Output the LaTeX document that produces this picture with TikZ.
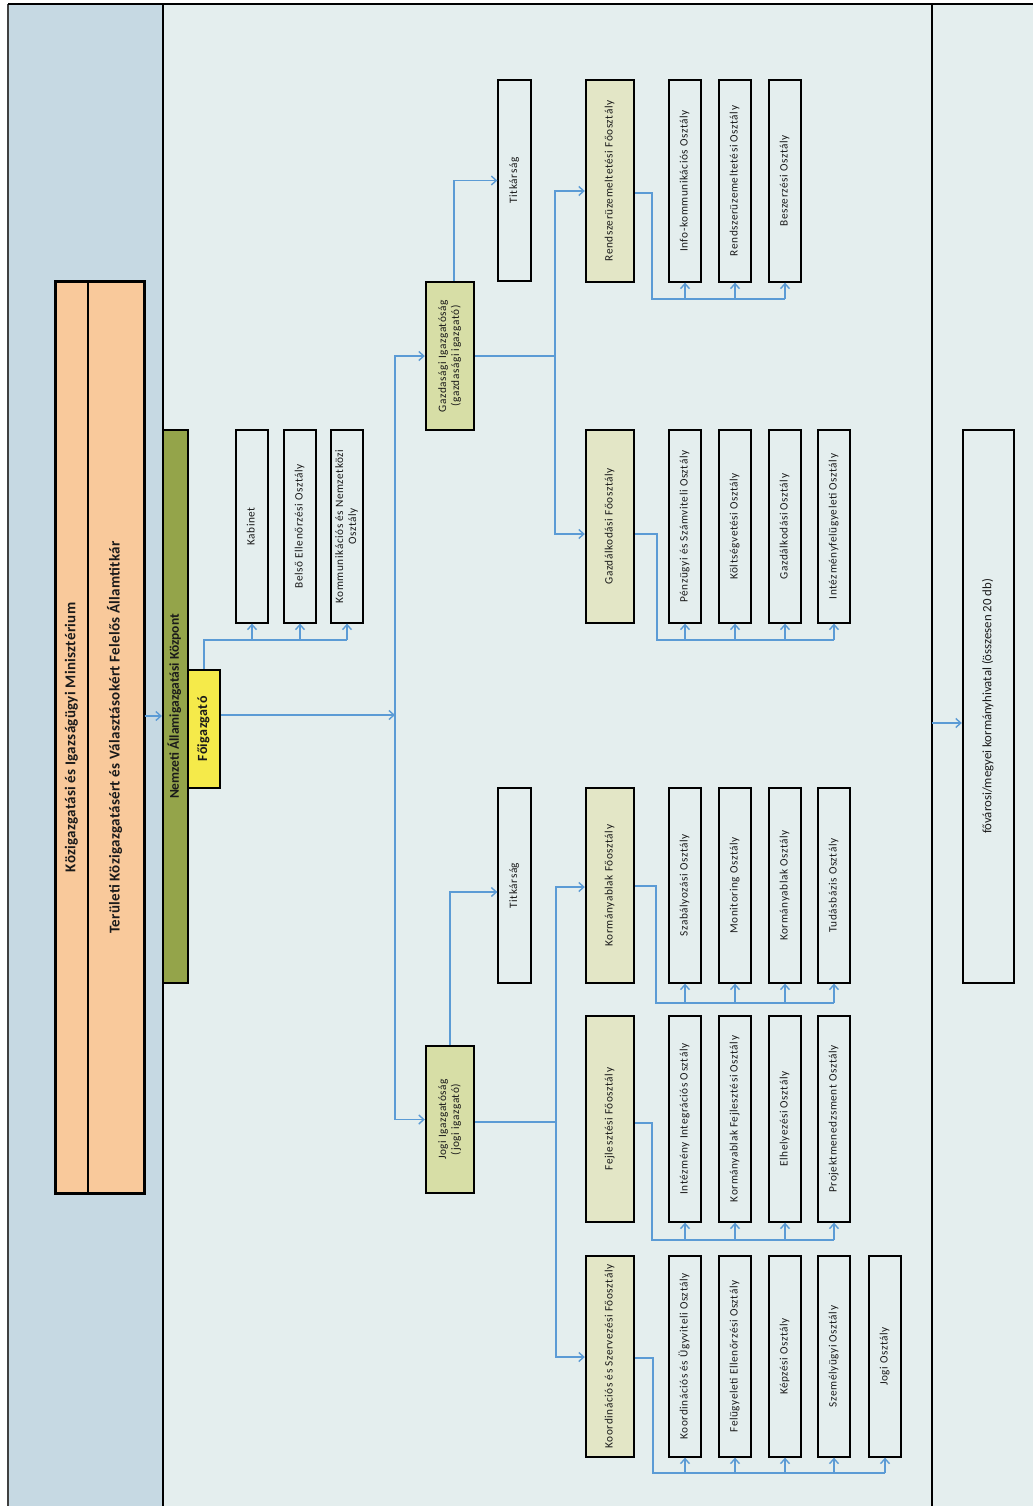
\documentclass[tikz,border=0pt]{standalone}
\usepackage{fontspec}
\setmainfont{Carlito}
\newfontfamily\spfont[LetterSpace=5]{Carlito}
\newfontfamily\titfont[LetterSpace=2]{Carlito}
\newfontfamily\fofont[LetterSpace=3]{Carlito}
\usetikzlibrary{arrows.meta}
\definecolor{leftbg}{HTML}{C6D9E3}
\definecolor{midbg}{HTML}{E4EEEE}
\definecolor{orng}{HTML}{F9C99B}
\definecolor{nakgreen}{HTML}{94A44A}
\definecolor{fyellow}{HTML}{F5EA4A}
\definecolor{igfill}{HTML}{D7DEA6}
\definecolor{fofill}{HTML}{E3E6C6}
\definecolor{conncol}{HTML}{5B9BD5}
\definecolor{txt}{HTML}{1A1A1A}
\newcommand{\vtext}[1]{\rotatebox{90}{\begin{tabular}{@{}c@{}}#1\end{tabular}}}
\tikzset{
  base/.style={draw=black, inner sep=0pt, align=center, text=txt},
  dept/.style={base, fill=midbg, line width=1.3pt, minimum width=32pt, font=\spfont\fontsize{11.3}{13}\selectfont},
  fobox/.style={base, fill=fofill, line width=2.4pt, minimum width=48pt, font=\spfont\fontsize{11.3}{13}\selectfont},
  igbox/.style={base, fill=igfill, line width=2.4pt, minimum width=48pt, font=\spfont\fontsize{11.3}{13}\selectfont},
  conn/.style={draw=conncol, line width=1.4pt},
  arr/.style={conn, -{Straight Barb[length=5pt,width=9pt,line width=1.4pt]}},
}
\begin{document}
\begin{tikzpicture}[x=1pt,y=-1pt]
\useasboundingbox (0,0) rectangle (1033,1506);
% background columns
\fill[white] (0,0) rectangle (1033,1506);
\fill[leftbg] (8,4) rectangle (163,1506);
\fill[midbg] (163,4) rectangle (1033,1506);
\draw[black!75, line width=1.5pt] (8,4) -- (8,1506);
\draw[black, line width=1.5pt] (8,4) -- (1033,4);
\draw[black, line width=2pt] (163,4) -- (163,1506);
\draw[black, line width=2pt] (932,4) -- (932,1506);

% ministry
\node[base, fill=orng, line width=1.2pt, minimum width=32pt, minimum height=911pt,
      font=\titfont\bfseries\fontsize{15}{17}\selectfont] (minist) at (72,737.5)
      {\vtext{Közigazgatási és Igazságügyi Minisztérium}};
\node[base, fill=orng, line width=1.2pt, minimum width=56pt, minimum height=911pt,
      font=\titfont\bfseries\fontsize{15}{17}\selectfont] (allam) at (116,737.5)
      {\vtext{Területi Közigazgatásért és Választásokért Felelős Államtitkár}};
\draw[black, line width=2.4pt] (minist.north west) rectangle (allam.south east);

% NAK
\node[base, fill=nakgreen, line width=2.2pt, minimum width=25pt, minimum height=553pt,
      font=\bfseries\fontsize{13.5}{15}\selectfont] (nak) at (175.5,706.5)
      {\vtext{Nemzeti Államigazgatási Központ}};
\node[base, fill=fyellow, line width=2.2pt, minimum width=32pt, minimum height=118pt,
      font=\fofont\bfseries\fontsize{14}{16}\selectfont] (fo) at (204,729) {\vtext{Főigazgató}};

% staff units
\node[dept, minimum height=193pt] (kab) at (252,526.5) {\vtext{Kabinet}};
\node[dept, minimum height=193pt] (bel) at (300,526.5) {\vtext{Belső Ellenőrzési Osztály}};
\node[dept, minimum height=193pt] (kom) at (347,526.5) {\vtext{Kommunikációs és Nemzetközi\\Osztály}};

% directorates
\node[igbox, minimum height=148pt] (gazd) at (450,356) {\vtext{Gazdasági Igazgatóság\\(gazdasági igazgató)}};
\node[igbox, minimum height=147pt] (jogi) at (450,1119.5) {\vtext{Jogi Igazgatóság\\(jogi igazgató)}};
\node[dept, minimum width=33pt, minimum height=201pt] (tit1) at (514.5,180.5) {\vtext{Titkárság}};
\node[dept, minimum width=33pt, minimum height=195pt] (tit2) at (514.5,885.5) {\vtext{Titkárság}};

% main departments
\node[fobox, minimum height=202pt] (rfo) at (610,181) {\vtext{Rendszerüzemeltetési Főosztály}};
\node[fobox, minimum height=193pt] (gfo) at (610,526.5) {\vtext{Gazdálkodási Főosztály}};
\node[fobox, minimum height=195pt] (kfo) at (610,885.5) {\vtext{Kormányablak  Főosztály}};
\node[fobox, minimum height=206pt] (ffo) at (610,1119) {\vtext{Fejlesztési Főosztály}};
\node[fobox, minimum height=201pt] (kofo) at (610,1356.5) {\vtext{Koordinációs és Szervezési Főosztály}};

% departments: Rendszeruzemeltetesi
\node[dept, minimum height=202pt] (r1) at (685,181) {\vtext{Info-kommunikációs Osztály}};
\node[dept, minimum height=202pt] (r2) at (735,181) {\vtext{Rendszerüzemeltetési Osztály}};
\node[dept, minimum height=202pt] (r3) at (785,181) {\vtext{Beszerzési Osztály}};
% Gazdalkodasi
\node[dept, minimum height=193pt] (g1) at (685,526.5) {\vtext{Pénzügyi és Számviteli Osztály}};
\node[dept, minimum height=193pt] (g2) at (735,526.5) {\vtext{Költségvetési Osztály}};
\node[dept, minimum height=193pt] (g3) at (785,526.5) {\vtext{Gazdálkodási Osztály}};
\node[dept, minimum height=193pt] (g4) at (834,526.5) {\vtext{Intézményfelügyeleti Osztály}};
% Kormanyablak
\node[dept, minimum height=195pt] (k1) at (685,885.5) {\vtext{Szabályozási Osztály}};
\node[dept, minimum height=195pt] (k2) at (735,885.5) {\vtext{Monitoring Osztály}};
\node[dept, minimum height=195pt] (k3) at (785,885.5) {\vtext{Kormányablak Osztály}};
\node[dept, minimum height=195pt] (k4) at (834,885.5) {\vtext{Tudásbázis Osztály}};
% Fejlesztesi
\node[dept, minimum height=206pt] (f1) at (685,1119) {\vtext{Intézmény Integrációs Osztály}};
\node[dept, minimum height=206pt] (f2) at (735,1119) {\vtext{Kormányablak Fejlesztési Osztály}};
\node[dept, minimum height=206pt] (f3) at (785,1119) {\vtext{Elhelyezési Osztály}};
\node[dept, minimum height=206pt] (f4) at (834,1119) {\vtext{Projektmenedzsment Osztály}};
% Koordinacios
\node[dept, minimum height=201pt] (c1) at (685,1356.5) {\vtext{Koordinációs és Ügyviteli Osztály}};
\node[dept, minimum height=201pt] (c2) at (735,1356.5) {\vtext{Felügyeleti Ellenőrzési Osztály}};
\node[dept, minimum height=201pt] (c3) at (785,1356.5) {\vtext{Képzési Osztály}};
\node[dept, minimum height=201pt] (c4) at (834,1356.5) {\vtext{Személyügyi Osztály}};
\node[dept, minimum height=201pt] (c5) at (885,1356.5) {\vtext{Jogi Osztály}};

% government offices
\node[base, fill=midbg, line width=2.4pt, minimum width=51pt, minimum height=553pt,
      font=\fontsize{12.8}{14}\selectfont] (kh) at (988.5,706.5)
      {\vtext{fővárosi/megyei kormányhivatal (összesen 20 db)}};
\coordinate (rdiv) at (932,723);

% ---- connectors ----
\draw[arr] (allam.east |- 0,716) -- (nak.west |- 0,716);
\draw[arr] (rdiv) -- (kh.west |- rdiv);

% Foigazgato to staff units
\draw[conn] (fo.north) -- (fo.north |- 0,640) -- (kom.south |- 0,640);
\foreach \n in {kab,bel,kom} \draw[arr] (\n.south |- 0,640) -- (\n.south);

% Foigazgato to directorates
\coordinate (vj) at (395,715);
\draw[arr] (fo.east |- vj) -- (vj);
\draw[arr] (vj) |- (gazd.west);
\draw[arr] (vj) |- (jogi.west);

% Gazdasagi
\draw[arr] ([xshift=4pt]gazd.north) |- (tit1.west);
\coordinate (gv) at (555,356);
\draw[conn] (gazd.east) -- (gv);
\draw[arr] (gv) |- (rfo.west |- 0,191);
\draw[arr] (gv) |- (gfo.west |- 0,534);

% Jogi
\draw[arr] (jogi.north) |- (tit2.west |- 0,892);
\coordinate (jv) at (556,1122);
\draw[conn] (jogi.east |- jv) -- (jv);
\draw[arr] (jv) |- (kfo.west |- 0,887);
\draw[arr] (jv) |- (kofo.west |- 0,1357);

% Rendszeruzemeltetesi group
\draw[conn] (rfo.east |- 0,193) -- (652,193) -- (652,299) -- (r3.south |- 0,299);
\foreach \n in {r1,r2,r3} \draw[arr] (\n.south |- 0,299) -- (\n.south);
% Gazdalkodasi group
\draw[conn] (gfo.east |- 0,534) -- (657,534) -- (657,640) -- (g4.south |- 0,640);
\foreach \n in {g1,g2,g3,g4} \draw[arr] (\n.south |- 0,640) -- (\n.south);
% Kormanyablak group
\draw[conn] (kfo.east |- 0,886) -- (656,886) -- (656,1003) -- (k4.south |- 0,1003);
\foreach \n in {k1,k2,k3,k4} \draw[arr] (\n.south |- 0,1003) -- (\n.south);
% Fejlesztesi group
\draw[conn] (ffo.east |- 0,1123) -- (652,1123) -- (652,1240) -- (f4.south |- 0,1240);
\foreach \n in {f1,f2,f3,f4} \draw[arr] (\n.south |- 0,1240) -- (\n.south);
% Koordinacios group
\draw[conn] (kofo.east |- 0,1358) -- (653,1358) -- (653,1473) -- (c5.south |- 0,1473);
\foreach \n in {c1,c2,c3,c4,c5} \draw[arr] (\n.south |- 0,1473) -- (\n.south);
\end{tikzpicture}
\end{document}
